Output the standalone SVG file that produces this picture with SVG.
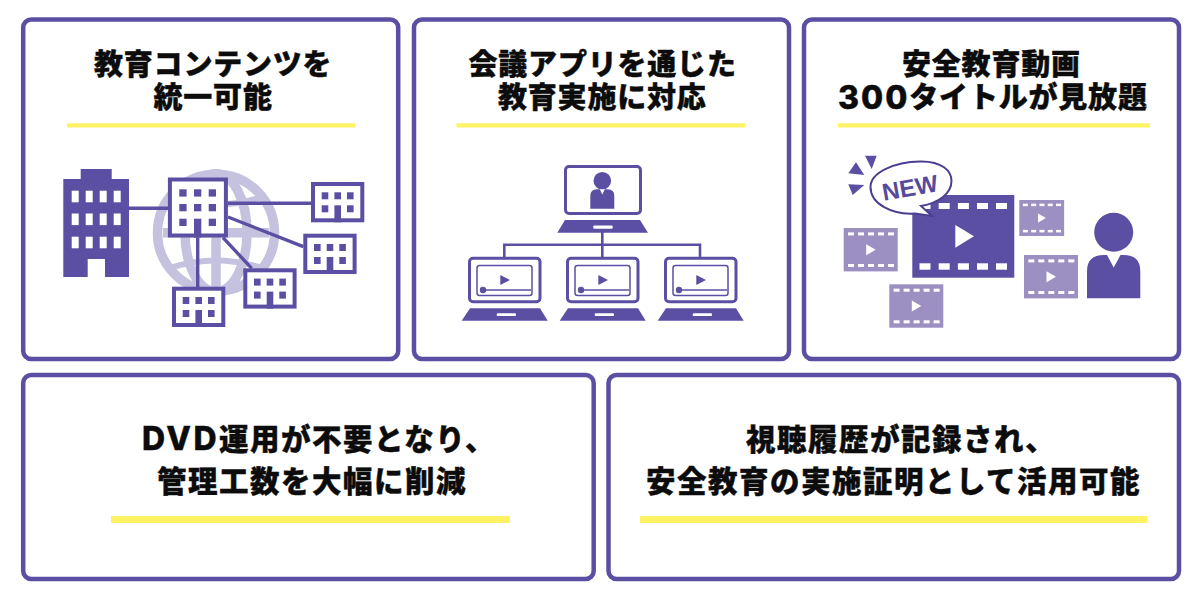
<svg xmlns="http://www.w3.org/2000/svg" width="1200" height="602" viewBox="0 0 1200 602">
<style>
.panel{fill:#fff;stroke:#5a4fa2;stroke-width:4.5}
.bar{fill:#fff263}
.t{font-family:"Noto Sans CJK JP","Noto Sans",sans-serif;font-weight:900;fill:#0c0c0c;stroke:#0c0c0c;stroke-width:.4px}
.t1{font-size:29px;letter-spacing:.8px}
.t2{font-size:29.5px;letter-spacing:1.5px}
.lat{font-family:Inter,"Liberation Sans",sans-serif;font-weight:800}
.p{fill:#5a4fa2}
.w{fill:#fff}
.ln{stroke:#5a4fa2;fill:none}
.bld{fill:#fff;stroke:#5a4fa2;stroke-width:4}
</style>
<defs>
<g id="small">
<rect class="bld" x="2" y="2" width="49.3" height="36.3"/>
<rect class="p" x="10.7" y="10.3" width="6.6" height="7"/><rect class="p" x="23.4" y="10.3" width="6.6" height="7"/><rect class="p" x="36" y="10.3" width="6.6" height="7"/>
<rect class="p" x="10.7" y="23.3" width="6.6" height="7"/><rect class="p" x="36" y="23.3" width="6.6" height="7"/>
<rect class="p" x="23.4" y="23.3" width="6.6" height="17"/>
</g>
<g id="film">
<rect x="0" y="0" width="54" height="43.4" fill="#9c90c3"/>
<g class="w"><rect x="4.3" y="4.4" width="6" height="3"/><rect x="14.3" y="4.4" width="6" height="3"/><rect x="24.3" y="4.4" width="6" height="3"/><rect x="34.3" y="4.4" width="6" height="3"/><rect x="44.3" y="4.4" width="6" height="3"/>
<rect x="4.3" y="36" width="6" height="3"/><rect x="14.3" y="36" width="6" height="3"/><rect x="24.3" y="36" width="6" height="3"/><rect x="34.3" y="36" width="6" height="3"/><rect x="44.3" y="36" width="6" height="3"/>
<path d="M22.5 16.3L32 21.7 22.5 27.3Z"/></g>
</g>
<g id="lap">
<rect x="469.5" y="258.2" width="70.5" height="43.5" rx="3.5" fill="#fff" stroke="#5a4fa2" stroke-width="3"/>
<rect x="477" y="265.5" width="55" height="30" rx="2.5" fill="#fff" stroke="#5a4fa2" stroke-width="1.5"/>
<path class="p" d="M500.3 275L510 280 500.3 285Z"/>
<path class="ln" stroke-width="1.6" d="M481 290H531"/>
<circle class="p" cx="483" cy="290" r="3.2"/>
<path class="p" d="M470 308.3H540L547.7 320.7H461.7Z"/>
<rect class="w" x="496.7" y="313.3" width="19.3" height="2.8" rx="1"/>
</g>
</defs>
<rect width="1200" height="602" fill="#fff"/>
<g id="panel-1">
<rect class="panel" x="23.2" y="19.5" width="375" height="339.5" rx="8"/>
<text class="t t1" x="94" y="74.500">教育コンテンツを</text>
<text class="t t1" x="153.500" y="108">統一可能</text>
<rect class="bar" x="67" y="123.3" width="288.5" height="4.2"/>
<g id="globe" fill="none" stroke="#c5c2e0" stroke-width="9.500">
<circle cx="216" cy="232.7" r="58.500"/>
<ellipse cx="216" cy="232.7" rx="31" ry="59"/>
<path d="M216 174V292M163 232.7H269"/>
<path d="M170 197Q216 212 262 197M170 268Q216 253 262 268" stroke-width="6"/>
</g>
<g id="hq-building" class="p">
<rect x="63.3" y="179" width="65.7" height="98"/><rect x="80.7" y="169" width="31" height="12"/>
<g class="w">
<rect x="71.7" y="190.7" width="7" height="11.6"/><rect x="85.7" y="190.7" width="7" height="11.6"/><rect x="99.7" y="190.7" width="7" height="11.6"/><rect x="113.7" y="190.7" width="7" height="11.6"/>
<rect x="71.7" y="213.5" width="7" height="11.6"/><rect x="85.7" y="213.5" width="7" height="11.6"/><rect x="99.7" y="213.5" width="7" height="11.6"/><rect x="113.7" y="213.5" width="7" height="11.6"/>
<rect x="71.7" y="236.7" width="7" height="11.6"/><rect x="85.7" y="236.7" width="7" height="11.6"/><rect x="99.7" y="236.7" width="7" height="11.6"/><rect x="113.7" y="236.7" width="7" height="11.6"/>
<rect x="87.7" y="259" width="17.3" height="18"/>
</g>
</g>
<g id="links" class="ln" stroke-width="3.4">
<path d="M129 208.3H168M228 203.3H311M228 217L303.3 246.7M223 237.7L251.7 268.3M197.7 237.7V287"/>
</g>
<g id="center-building">
<rect class="bld" x="169.9" y="179.5" width="56" height="56" stroke-width="4.4"/>
<g class="p">
<rect x="179.3" y="189.3" width="7.3" height="7.3"/><rect x="194" y="189.3" width="7.3" height="7.3"/><rect x="208.7" y="189.3" width="7.3" height="7.3"/>
<rect x="179.3" y="204" width="7.3" height="7.3"/><rect x="194" y="204" width="7.3" height="7.3"/><rect x="208.7" y="204" width="7.3" height="7.3"/>
<rect x="179.3" y="218.7" width="7.3" height="7.3"/><rect x="208.7" y="218.7" width="7.3" height="7.3"/>
<rect x="194" y="218.7" width="7.3" height="19"/>
</g>
</g>
<use id="branch-1" href="#small" x="311" y="182"/>
<use id="branch-2" href="#small" x="303.3" y="233.7"/>
<use id="branch-3" href="#small" x="243.3" y="268.3"/>
<use id="branch-4" href="#small" x="172" y="286.7"/>
</g>
<g id="panel-2">
<rect class="panel" x="414" y="19.5" width="375" height="339.5" rx="8"/>
<text class="t t1" x="468.500" y="74.500">会議アプリを通じた</text>
<text class="t t1" x="498" y="108">教育実施に対応</text>
<rect class="bar" x="456.5" y="123.3" width="288.5" height="4.2"/>
<g id="links-2" class="ln" stroke-width="2.6"><path d="M602.3 232V257M504.3 257V244.7H700V257"/></g>
<g id="host-laptop">
<rect x="565.5" y="166.5" width="75" height="47" rx="3.5" fill="#fff" stroke="#5a4fa2" stroke-width="3"/>
<circle class="p" cx="602.3" cy="180.7" r="8.8"/>
<path class="p" d="M590.3 208.7V196Q590.3 189.3 597 189.3H607.6Q614.3 189.3 614.3 196V208.7Z"/>
<path class="w" d="M599.8 189.3H604.8L602.3 194.5Z"/>
<path class="p" d="M565 220H640L648 232.7H557.3Z"/>
<rect class="w" x="593.3" y="225.5" width="19.4" height="3.2" rx="1"/>
</g>
<use id="laptop-1" href="#lap"/>
<use id="laptop-2" href="#lap" x="98"/>
<use id="laptop-3" href="#lap" x="196"/>
</g>
<g id="panel-3">
<rect class="panel" x="804" y="19.5" width="375" height="339.5" rx="8"/>
<text class="t t1" x="902" y="74.500">安全教育動画</text>
<text class="t t1" x="838" y="108"><tspan class="lat" font-size="32" letter-spacing="2" dy="1">300</tspan><tspan dy="-1">タイトルが見放題</tspan></text>
<rect class="bar" x="838" y="123.3" width="312" height="4.2"/>
<use id="film-a" href="#film" x="843.7" y="228"/>
<use id="film-b" href="#film" x="889.3" y="284.3"/>
<use id="film-c" href="#film" transform="translate(1019.3 200) scale(.83)"/>
<use id="film-d" href="#film" x="1024" y="255"/>
<g id="film-main">
<rect class="p" x="912.3" y="195" width="102" height="82.7"/>
<g class="w">
<rect x="919.5" y="203" width="11" height="6"/><rect x="938.7" y="203" width="11" height="6"/><rect x="957.9" y="203" width="11" height="6"/><rect x="977" y="203" width="11" height="6"/><rect x="996" y="203" width="11" height="6"/>
<rect x="919.5" y="263.3" width="11" height="6.4"/><rect x="938.7" y="263.3" width="11" height="6.4"/><rect x="957.9" y="263.3" width="11" height="6.4"/><rect x="977" y="263.3" width="11" height="6.4"/><rect x="996" y="263.3" width="11" height="6.4"/>
<path d="M955.3 225L974 236.3 955.3 247.7Z"/>
</g>
</g>
<g id="new-badge">
<path d="M870.5 187C870.5 172 895 162 920 161.5C942 161 951.500 171 951.500 181C951.500 194 938 203 921 206L932 216L915 213.500C892 215 870.500 204 870.500 187Z" fill="#fff" stroke="#4a3f90" stroke-width="2"/>
<text x="910" y="196" transform="rotate(-10 910 188)" text-anchor="middle" font-family="'Liberation Sans',sans-serif" font-weight="700" font-size="24" fill="#564a9e">NEW</text>
<path class="p" d="M865 155.700H876.700L871.700 169ZM856 162.300L848.300 173.300L864.300 175ZM848.300 184.300L864.300 185L852.700 195Z"/>
</g>
<g id="viewer" class="p">
<circle cx="1113.700" cy="232.300" r="19.500"/>
<path d="M1087 298.300V271Q1087 255 1104 255H1107L1113.700 267.500L1120.500 255H1123.500Q1140.300 255 1140.300 271V298.300Z"/>
</g>
</g>
<g id="panel-4">
<rect class="panel" x="23.200" y="375" width="570.500" height="204" rx="8"/>
<text class="t t2" x="142" y="449.500"><tspan class="lat" font-size="32" letter-spacing="2.500">DVD</tspan>運用が不要となり、</text>
<text class="t t2" x="157" y="491.500">管理工数を大幅に削減</text>
<rect class="bar" x="111" y="516" width="399" height="7"/>
</g>
<g id="panel-5">
<rect class="panel" x="608.500" y="375" width="570.500" height="204" rx="8"/>
<text class="t t2" x="746" y="449.500">視聴履歴が記録され、</text>
<text class="t t2" x="646" y="491.500">安全教育の実施証明として活用可能</text>
<rect class="bar" x="640" y="516" width="507.500" height="7"/>
</g>
</svg>
